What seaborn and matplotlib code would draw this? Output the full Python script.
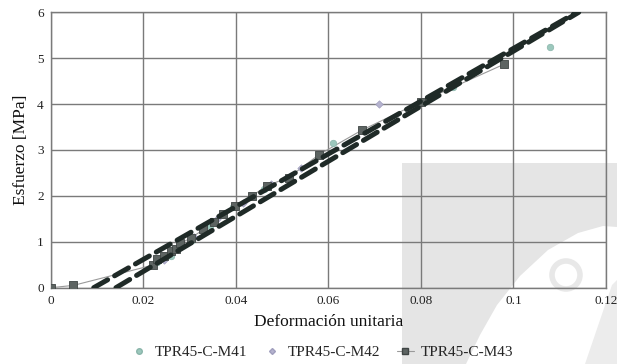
import numpy as np
import pandas as pd
import matplotlib
matplotlib.use("Agg")
import matplotlib.pyplot as plt
from matplotlib.patches import Rectangle, Polygon, Ellipse
from matplotlib.lines import Line2D
import seaborn as sns

# ---- data ----
m41_x = [0.0, 0.023, 0.026, 0.0305, 0.0345, 0.0395, 0.046, 0.061, 0.087, 0.108]
m41_y = [0.0, 0.55, 0.70, 1.05, 1.35, 1.75, 2.15, 3.15, 4.38, 5.25]

m42_x = [0.0, 0.0245, 0.0275, 0.031, 0.036, 0.0415, 0.0475, 0.054, 0.071]
m42_y = [0.0, 0.60, 0.85, 1.10, 1.50, 1.85, 2.25, 2.60, 4.00]

m43_x = [0.0, 0.0049, 0.022, 0.023, 0.0245, 0.026, 0.027, 0.028, 0.0303, 0.033,
         0.0352, 0.0372, 0.0398, 0.0435, 0.0467, 0.0514, 0.058, 0.0672, 0.080, 0.098]
m43_y = [0.0, 0.05, 0.49, 0.62, 0.68, 0.80, 0.85, 0.97, 1.08, 1.27,
         1.44, 1.60, 1.78, 2.00, 2.22, 2.40, 2.90, 3.43, 4.05, 4.87]

fitA_x = [0.0093, 0.1137]
fitA_y = [0.0, 6.0]
fitB_x = [0.0141, 0.1141]
fitB_y = [0.0, 6.0]

labels = ["TPR45-C-M41", "TPR45-C-M42", "TPR45-C-M43"]
x_ticks = [0, 0.02, 0.04, 0.06, 0.08, 0.1, 0.12]
x_tick_labels = ["0", "0.02", "0.04", "0.06", "0.08", "0.1", "0.12"]
y_ticks = [0, 1, 2, 3, 4, 5, 6]

sns.set_style("white")
plt.rcParams["font.family"] = ["Liberation Serif", "DejaVu Serif"]

fig = plt.figure(figsize=(6.17, 3.64), dpi=100)


def fp(px, py):
    return (px / 617, 1 - py / 364)


# scanned-page watermark background
fig.patches.append(Rectangle(fp(402, 364), 215 / 617, 201 / 364,
                             transform=fig.transFigure, facecolor="#e5e5e5",
                             edgecolor="none", zorder=-10))
owl = [(466, 364), (480, 335), (497, 305), (520, 276), (548, 250), (578, 233),
       (603, 226), (617, 227), (617, 364)]
fig.patches.append(Polygon([fp(*p) for p in owl], closed=True,
                           transform=fig.transFigure, facecolor="white",
                           edgecolor="none", zorder=-9))
stroke = [(585, 364), (600, 320), (612, 285), (617, 280), (617, 364)]
fig.patches.append(Polygon([fp(*p) for p in stroke], closed=True,
                           transform=fig.transFigure, facecolor="#ececec",
                           edgecolor="none", zorder=-8))
fig.patches.append(Ellipse(fp(566, 275), 28 / 617, 28 / 364, transform=fig.transFigure,
                           facecolor="none", edgecolor="#e8e8e8", linewidth=4,
                           zorder=-8))

ax = fig.add_axes([50.7 / 617, 1 - 287.7 / 364, (606 - 50.7) / 617, (287.7 - 12.3) / 364])
ax.set_facecolor("none")

df41 = pd.DataFrame({"x": m41_x, "y": m41_y})
df42 = pd.DataFrame({"x": m42_x, "y": m42_y})
df43 = pd.DataFrame({"x": m43_x, "y": m43_y})
dfA = pd.DataFrame({"x": fitA_x, "y": fitA_y})
dfB = pd.DataFrame({"x": fitB_x, "y": fitB_y})

sns.lineplot(data=df43, x="x", y="y", ax=ax, color="#9a9a9a", linewidth=0.8,
             sort=False, estimator=None, zorder=3)
sns.scatterplot(data=df41, x="x", y="y", ax=ax, marker="o", s=22,
                color="#9cc8bd", edgecolor="#8ab5aa", linewidth=0.5, zorder=4)
sns.scatterplot(data=df42, x="x", y="y", ax=ax, marker="D", s=14,
                color="#b5b3cf", edgecolor="#a09ebd", linewidth=0.5, zorder=4)
sns.scatterplot(data=df43, x="x", y="y", ax=ax, marker="s", s=28,
                color="#5d6462", edgecolor="#3f4544", linewidth=0.6, zorder=5)
for d in (dfA, dfB):
    sns.lineplot(data=d, x="x", y="y", ax=ax, color="#1f2a27", linewidth=3.6,
                 estimator=None, zorder=6, dashes=False)
for ln in ax.lines[-2:]:
    ln.set_dashes((3.2, 1.6))
    ln.set_dash_capstyle("round")

ax.set_xlim(0, 0.12)
ax.set_ylim(0, 6)
ax.set_xticks(x_ticks)
ax.set_xticklabels(x_tick_labels)
ax.set_yticks(y_ticks)
ax.grid(True, color="#7a7a7a", linewidth=1.0)
ax.set_axisbelow(True)
for sp in ax.spines.values():
    sp.set_color("#7a7a7a")
    sp.set_linewidth(1.0)
ax.tick_params(axis="both", length=0, labelsize=9.5, colors="#222222", pad=5)
ax.set_xlabel("Deformación unitaria", fontsize=12.5, color="#111111", labelpad=5)
ax.set_ylabel("Esfuerzo [MPa]", fontsize=12.5, color="#111111", labelpad=6)

handles = [
    Line2D([], [], linestyle="none", marker="o", markersize=4,
           markerfacecolor="#9cc8bd", markeredgecolor="#8ab5aa"),
    Line2D([], [], linestyle="none", marker="D", markersize=3,
           markerfacecolor="#b5b3cf", markeredgecolor="#a09ebd"),
    Line2D([], [], color="#9a9a9a", linewidth=0.8, marker="s", markersize=4.5,
           markerfacecolor="#5d6462", markeredgecolor="#3f4544"),
]
fig.legend(handles, labels, loc="center", bbox_to_anchor=(322 / 617, 1 - 352 / 364),
           ncol=3, frameon=False, fontsize=11, handlelength=1.1,
           columnspacing=1.1, handletextpad=0.45)

fig.savefig("out.png", dpi=100)
